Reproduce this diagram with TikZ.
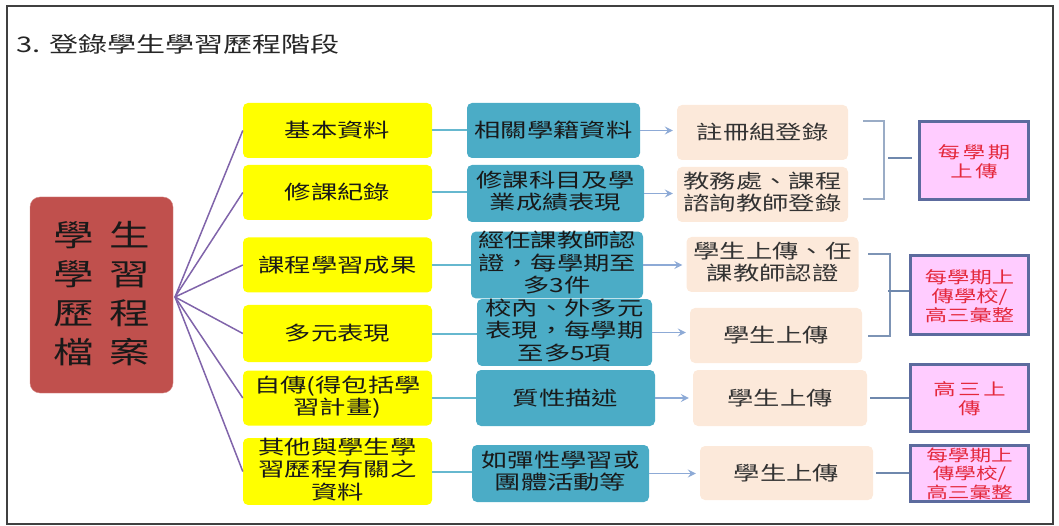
\documentclass[tikz,border=0pt]{standalone}
\usepackage{fontspec}
\newfontfamily\cjk[FakeStretch=1.35]{Noto Sans CJK TC}
\usetikzlibrary{shapes,arrows,arrows.meta}
\usetikzlibrary{calc}
\definecolor{myyellow}{RGB}{255, 255, 0}
\definecolor{myteal}{RGB}{75, 172, 198}
\definecolor{mypeach}{RGB}{252, 233, 218}
\definecolor{myred}{RGB}{192, 80, 77}
\definecolor{mypink}{RGB}{255, 204, 255}
\definecolor{myframe}{RGB}{92, 107, 158}
\definecolor{mypurple}{RGB}{128, 100, 170}
\definecolor{myline}{RGB}{111, 136, 173}
\definecolor{myarrow}{RGB}{141, 170, 214}
\definecolor{myredtext}{RGB}{228, 40, 60}

\begin{document}
\begin{tikzpicture}[x=1pt,y=-1pt]

\tikzstyle{yellow-b} = [fill=myyellow, rounded corners=5, inner sep=0, minimum width=189, minimum height=55,
text=black!90, font=\cjk\fontsize{19.5}{19.5}\selectfont]
\tikzstyle{teal-b} = [fill=myteal, rounded corners=5, inner sep=0, minimum height=56,
text=black!90, font=\cjk\fontsize{19.5}{19.5}\selectfont]
\tikzstyle{peach_block} = [fill=mypeach, rounded corners=5, inner sep=0, minimum width=172, minimum height=55,
text=black!80, font=\cjk\fontsize{19.5}{19.5}\selectfont]
\tikzstyle{pink_block} = [draw=myframe, line width=3, fill=mypink, inner sep=0, minimum width=118,
text=myredtext, font=\cjk\fontsize{16.5}{17.5}\selectfont]
\tikzstyle{red_block} = [draw=myred!70!white, fill=myred, rounded corners=10, inner sep=0,
minimum width=143, minimum height=196, text=black!90, font=\cjk\fontsize{30}{39}\selectfont]
\tikzstyle{arrow_line} = [-{Stealth[length=8,width=8,inset=3]}, myarrow, line width=1.2, shorten >=4]

\useasboundingbox (0,0) rectangle (1059,526);
\draw[line width=2, black!75] (7,6) rectangle (1053,524);

\node [anchor=west, text=black!85, font=\cjk\fontsize{21.5}{22}\selectfont] (title) at (13,44) {3. 登錄學生學習歷程階段};

\node [red_block] (main) at (101.5,295) {\begin{tabular}{c} \rule{0pt}{31pt}學\hspace{16pt}生 \\ 學\hspace{16pt}習 \\ 歷\hspace{16pt}程 \\ 檔\hspace{16pt}案 \end{tabular}};
\coordinate (hub) at (175,297);

% yellow column
\node [yellow-b] (y1) at (337.5,130.5) {基本資料};
\node [yellow-b] (y2) at (337.5,192.5) {修課紀錄};
\node [yellow-b] (y3) at (337.5,265) {課程學習成果};
\node [yellow-b, minimum height=57] (y4) at (337.5,333.5) {多元表現};
\node [yellow-b] (y5) at (337.5,398) {\begin{tabular}{c} 自傳(得包括學 \\ 習計畫) \end{tabular}};
\node [yellow-b, minimum height=57] (y6) at (337.5,471.5) {\begin{tabular}{c} 其他與學生學 \\ 習歷程有關之 \\ 資料 \end{tabular}};

\draw[mypurple, line width=1.5] (hub) -- (y1.west);
\draw[mypurple, line width=1.5] (hub) -- (y2.west);
\draw[mypurple, line width=1.5] (hub) -- (y3.west);
\draw[mypurple, line width=1.5] (hub) -- (y4.west);
\draw[mypurple, line width=1.5] (hub) -- (y5.west);
\draw[mypurple, line width=1.5] (hub) -- (y6.west);

% teal column
\node [teal-b, minimum width=173, minimum height=55] (t1) at (553.5,130.5) {相關學籍資料};
\node [teal-b, minimum width=177, minimum height=57] (t2) at (555.5,193.5) {\begin{tabular}{c} 修課科目及學 \\ 業成績表現 \end{tabular}};
\node [teal-b, minimum width=172] (t3) at (557,265) {\begin{tabular}{c} 經任課教師認 \\ 證，每學期至 \\ 多3件 \end{tabular}};
\node [teal-b, minimum width=175, minimum height=59] (t4) at (564.5,332.5) {\begin{tabular}{c} 校內、外多元 \\ 表現，每學期 \\ 至多5項 \end{tabular}};
\node [teal-b, minimum width=179] (t5) at (565.5,398) {質性描述};
\node [teal-b, minimum width=177, minimum height=57] (t6) at (560.5,473.5) {\begin{tabular}{c} 如彈性學習或 \\ 團體活動等 \end{tabular}};

\draw[myteal!85, line width=2] (y1.east) -- (y1.east -| t1.west);
\draw[myteal!85, line width=2] (y2.east) -- (y2.east -| t2.west);
\draw[myteal!85, line width=2] (y3.east) -- (y3.east -| t3.west);
\draw[myteal!85, line width=2] (y4.east) -- (y4.east -| t4.west);
\draw[myteal!85, line width=2] (y5.east) -- (y5.east -| t5.west);
\draw[myteal!85, line width=2] (y6.east) -- (y6.east -| t6.west);

% peach column
\node [peach_block, minimum width=171] (p1) at (762.5,132.5) {註冊組登錄};
\node [peach_block, minimum width=171] (p2) at (762.5,194.5) {\begin{tabular}{c} 教務處、課程 \\ 諮詢教師登錄 \end{tabular}};
\node [peach_block, minimum width=172] (p3) at (772.5,264.5) {\begin{tabular}{c} 學生上傳、任 \\ 課教師認證 \end{tabular}};
\node [peach_block] (p4) at (776,335.5) {學生上傳};
\node [peach_block, minimum width=174, minimum height=56] (p5) at (780,398) {學生上傳};
\node [peach_block, minimum width=173, minimum height=54] (p6) at (786.5,473) {學生上傳};

\draw[arrow_line] (t1.east) -- (t1.east -| p1.west);
\draw[arrow_line] (t2.east) -- (t2.east -| p2.west);
\draw[arrow_line] (t3.east) -- (t3.east -| p3.west);
\draw[arrow_line] (t4.east) -- (t4.east -| p4.west);
\draw[arrow_line] (t5.east) -- (t5.east -| p5.west);
\draw[arrow_line] (t6.east) -- (t6.east -| p6.west);

% pink column
\node [pink_block, minimum width=109, minimum height=78] (pk1) at (974,160.5) {\raisebox{-3pt}[\height][\depth]{\begin{tabular}{c} 每\,學\,期 \\ 上\,傳 \end{tabular}}};
\node [pink_block, minimum height=79] (pk2) at (969.5,295) {\raisebox{-3pt}[\height][\depth]{\begin{tabular}{c} 每學期上 \\ 傳學校/ \\ 高三彙整 \end{tabular}}};
\node [pink_block, minimum height=67] (pk3) at (969.5,398) {\raisebox{-3pt}[\height][\depth]{\begin{tabular}{c} 高\,三\,上 \\ 傳 \end{tabular}}};
\node [pink_block, minimum height=56, font=\cjk\fontsize{16}{16}\selectfont] (pk4) at (969.5,473.5) {\raisebox{-2pt}[\height][\depth]{\begin{tabular}{c} 每學期上 \\ 傳學校/ \\ 高三彙整 \end{tabular}}};

\draw[myline!70, line width=1.5] (863,121) -- (884,121) -- (884,199) -- (863,199);
\draw[myline!90, line width=1.5] (868,254) -- (890,254) -- (890,336) -- (868,336);
\coordinate (s1) at (888,158);
\coordinate (s2) at (888,291);
\draw[myline, line width=2, shorten >=6] (s1) -- (s1 -| pk1.west);
\draw[myline, line width=2] (s2) -- (s2 -| pk2.west);
\draw[myline, line width=2, shorten <=3] (p5.east) -- (p5.east -| pk3.west);
\draw[myline, line width=2, shorten <=3] (p6.east) -- (p6.east -| pk4.west);

\end{tikzpicture}
\end{document}
